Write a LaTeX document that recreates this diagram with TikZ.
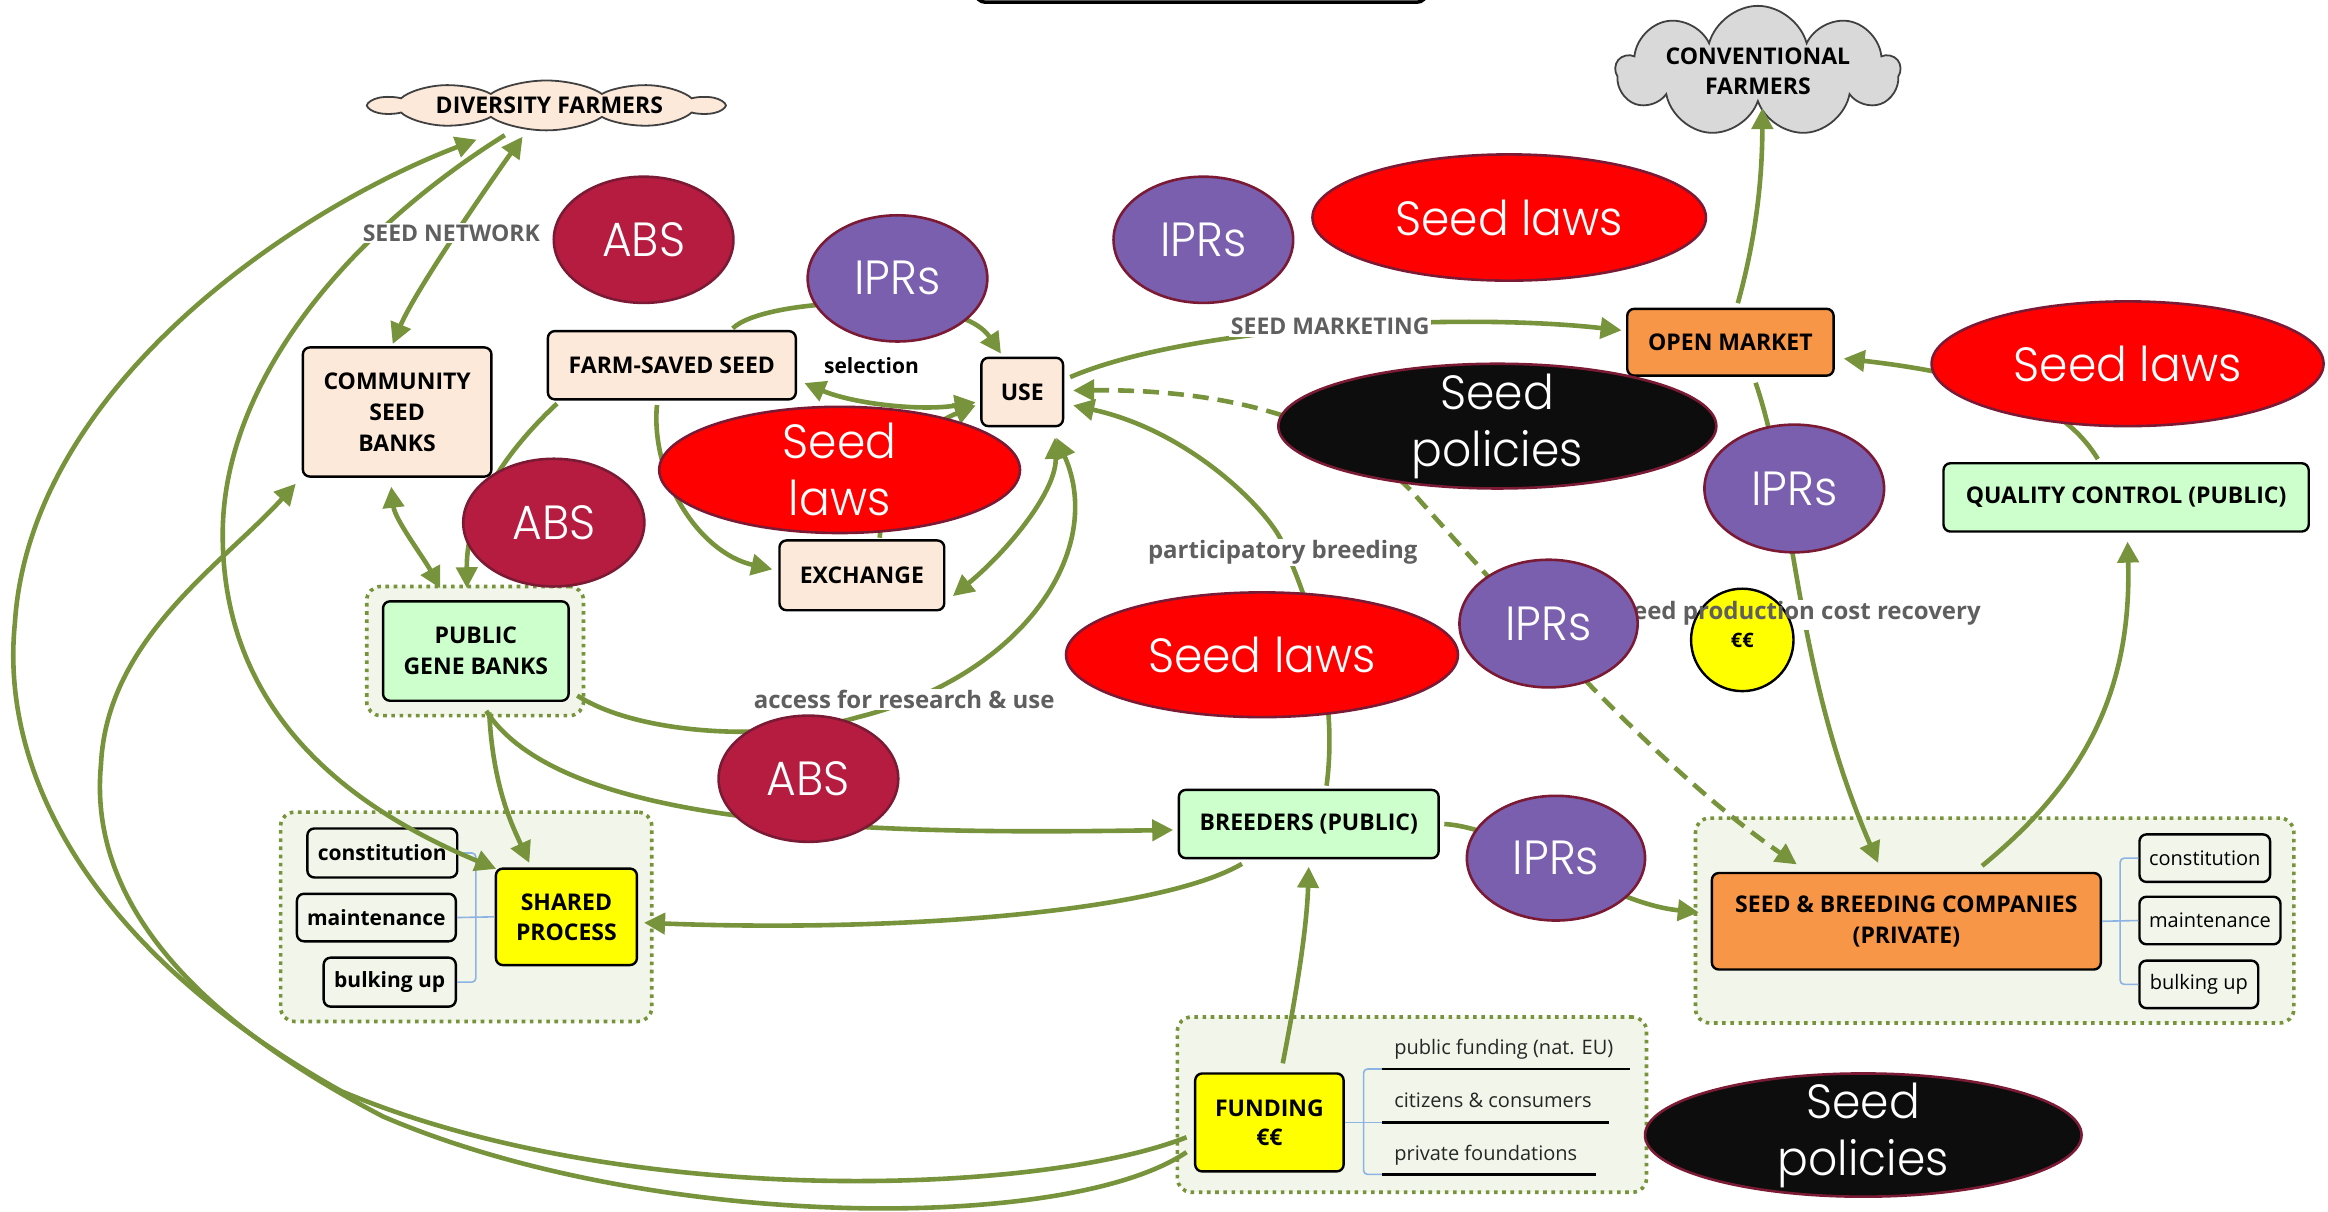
\documentclass[tikz,border=0pt]{standalone}
\usepackage{fontspec}
\setmainfont{Open Sans}
\newfontfamily\geo{Poppins Light}[FakeStretch=0.95]
\usetikzlibrary{shapes.geometric,shapes.symbols,arrows.meta,calc}
\definecolor{olv}{HTML}{77933C}
\definecolor{peach}{HTML}{FDE9D9}
\definecolor{lgreen}{HTML}{CCFFCC}
\definecolor{orng}{HTML}{F79646}
\definecolor{yel}{HTML}{FFFF00}
\definecolor{grpf}{HTML}{F2F5EA}
\definecolor{absc}{HTML}{B61C40}
\definecolor{iprc}{HTML}{7A5FAE}
\definecolor{lawc}{HTML}{FF0000}
\definecolor{polc}{HTML}{0D0D0D}
\definecolor{bord}{HTML}{7B1A35}
\definecolor{gtxt}{HTML}{5F5F5F}
\definecolor{brkc}{HTML}{8DB3E2}
\definecolor{cgray}{HTML}{D9D9D9}
\def\uu{1.4847pt}
\tikzset{
  sz/.style 2 args={minimum width=#1*\uu, minimum height=#2*\uu},
  bx/.style={draw=black, line width=2.4pt, rounded corners=7pt, inner sep=0pt, align=center, font=\bfseries\fontsize{23}{31}\selectfont},
  sbx/.style={draw=black, fill=grpf, line width=2.4pt, rounded corners=7pt, inner sep=0pt, font=\bfseries\fontsize{21}{24}\selectfont},
  sbxr/.style={sbx, font=\fontsize{20}{24}\selectfont},
  grp/.style={draw=olv, fill=grpf, line width=3.6pt, dash pattern=on 3.6pt off 4.6pt, rounded corners=14pt, inner sep=0pt},
  cld/.style={cloud, cloud ignores aspect, draw=black!75, line width=1.8pt, inner sep=0pt, align=center, font=\bfseries\fontsize{23}{30}\selectfont},
  blob/.style={ellipse, draw=bord, line width=2.6pt, text=white, inner sep=-25pt, align=center, font=\geo\fontsize{48}{57}\selectfont},
  absn/.style={blob, fill=absc},
  iprn/.style={blob, fill=iprc},
  lawn/.style={blob, fill=lawc},
  poln/.style={blob, fill=polc},
  conn/.style={draw=olv, line width=4.6pt},
  dsh/.style={conn, dash pattern=on 16pt off 9pt},
  lbl/.style={text=gtxt, fill=white, inner sep=1.5pt, font=\bfseries\fontsize{23}{26}\selectfont},
  lbls/.style={lbl, font=\bfseries\fontsize{24}{28}\selectfont},
  brk/.style={draw=brkc, line width=1.6pt, rounded corners=4pt},
  fl/.style={inner sep=0pt, text=black!85, font=\fontsize{20}{24}\selectfont},
  ul/.style={draw=black, line width=2.6pt},
}
\begin{document}
\begin{tikzpicture}[x=1.4847pt, y=-1.4847pt, >={Triangle[length=21pt,width=21pt]}]
\useasboundingbox (0,0) rectangle (1568,816);
% top bar (cut by the page edge)
\draw[line width=3.5pt, fill=white, rounded corners=10pt] (657,-40) rectangle (961,1.5);

% groups
\node[grp, sz={146}{87}] (gpgb) at (320,438.5) {};
\node[grp, sz={250}{141}] (gsp) at (314,617.5) {};
\node[grp, sz={403}{138}] (gsbc) at (1343.5,620) {};
\node[grp, sz={316}{118}] (gfund) at (951,744) {};

% clouds
\begin{scope}[shift={(368,71)}, yscale=0.42]
  \node[cld, fill=peach, sz={237}{80}, cloud puffs=10, cloud puff arc=120, transform shape] (df) at (0,0) {};
\end{scope}
\node[inner sep=0pt, font=\bfseries\fontsize{23}{30}\selectfont] (dft) at ($(df.center)+(2,0)$) {DIVERSITY FARMERS};
\node[cld, fill=cgray, sz={191}{80}, cloud puffs=9] (cf) at (1184,48) {CONVENTIONAL\\FARMERS};

% boxes
\node[bx, fill=peach, sz={127}{87}] (csb) at (267.5,277.5) {COMMUNITY\\SEED\\BANKS};
\node[bx, fill=peach, sz={167}{46}] (fss) at (452.5,246) {FARM-SAVED SEED};
\node[bx, fill=peach, sz={55}{46}] (use) at (688.5,264) {USE};
\node[bx, fill=peach, sz={111}{47}] (exch) at (580.5,387.5) {EXCHANGE};
\node[bx, fill=lgreen, sz={125}{67}] (pgb) at (320.5,438.5) {PUBLIC\\GENE BANKS};
\node[bx, fill=lgreen, sz={175}{46}] (br) at (881.5,555) {BREEDERS (PUBLIC)};
\node[bx, fill=orng, sz={139}{45}] (om) at (1165.5,230.5) {OPEN MARKET};
\node[bx, fill=lgreen, sz={246}{46}] (qc) at (1432,335) {QUALITY CONTROL (PUBLIC)};
\node[bx, fill=yel, sz={95}{65}, font=\bfseries\fontsize{23}{30}\selectfont] (sp) at (381.5,617.5) {SHARED\\PROCESS};
\node[bx, fill=orng, sz={262}{65}] (sbc) at (1284,620.5) {SEED \& BREEDING COMPANIES\\(PRIVATE)};
\node[bx, fill=yel, sz={100}{66}, font=\bfseries\fontsize{23}{29}\selectfont] (fund) at (855,756) {FUNDING\\€€};

% small boxes
\node[sbx, sz={101}{33}] (c1) at (257.5,574.5) {constitution};
\node[sbx, sz={107}{32}] (m1) at (253.5,618) {maintenance};
\node[sbx, sz={89}{33}] (b1) at (262.5,661.5) {bulking up};
\node[sbxr, sz={88}{32}] (c2) at (1485,578) {constitution};
\node[sbxr, sz={95}{32}] (m2) at (1488.5,620) {maintenance};
\node[sbxr, sz={80}{32}] (b2) at (1481,663) {bulking up};

% brackets
\draw[brk] (c1.east) -| ($(m1.east)!0.5!(sp.west)$) |- (b1.east);
\draw[brk] (m1.east) -- (sp.west);
\draw[brk] (c2.west) -| ($(sbc.east)!0.5!(m2.west)$) |- (b2.west);
\draw[brk] (sbc.east) -- (m2.west);

% funding list
\node[fl, anchor=base west] (fl1) at (939,710.5) {public funding (nat. EU)};
\node[fl, anchor=base west] (fl2) at (939,746) {citizens \& consumers};
\node[fl, anchor=base west] (fl3) at (939,781.5) {private foundations};
\coordinate (u1) at ($(fl1.base west)+(-8,9.5)$);
\coordinate (u2) at ($(fl2.base west)+(-8,10)$);
\coordinate (u3) at ($(fl3.base west)+(-8,9.5)$);
\draw[brk] (u1) -| ($(fund.east)!0.5!(u2)$) |- (u3);
\draw[brk] (fund.east) -- (u2);
\draw[ul] (u1) -- ++(167,0);
\draw[ul] (u2) -- ++(153,0);
\draw[ul] (u3) -- ++(144,0);

% connectors
\draw[conn,<->] ($(df.south)+(-16,4)$) .. controls (330,123) and (280,195) .. ($(csb.north)+(-3,-1.5)$);
\draw[conn,->] ($(df.south)+(-28,3)$) .. controls (230,160) and (150,260) .. (150,360) .. controls (150,490) and (250,550) .. ($(sp.north west)+(1,1)$);
\draw[conn,->] ($(fund.west)+(-5,10)$) .. controls (700,805) and (420,815) .. (230,735) .. controls (60,640) and (0,520) .. (10,420) .. controls (20,260) and (200,140) .. ($(df.south)+(-47,6)$);
\draw[conn,->] ($(fund.west)+(-5,20)$) .. controls (720,830) and (440,830) .. (258,752) .. controls (120,680) and (60,600) .. (68,515) .. controls (72,430) and (150,380) .. ($(csb.south west)+(-4,4)$);
\draw[conn,->] ($(fss.north)+(41,-1)$) .. controls (515,200) and (645,195) .. ($(use.north west)+(14,-2)$);
\draw[conn,<->] ($(fss.east)+(5,12)$) .. controls (575,272) and (620,277) .. ($(use.west)+(-3,7)$);
\draw[conn,->] ($(exch.north)+(12,-1)$) .. controls (596,320) and (612,292) .. ($(use.west)+(-3,9)$);
\draw[conn,->] ($(fss.south west)+(7,2)$) .. controls (345,300) and (314,340) .. ($(pgb.north)+(-6,-8)$);
\draw[conn,<->] ($(csb.south)+(-4,6)$) .. controls (266,350) and (285,375) .. ($(pgb.north)+(-24,-8)$);
\draw[conn,->] ($(fss.south)+(-10,3)$) .. controls (438,320) and (470,372) .. ($(exch.west)+(-4,-4)$);
\draw[conn,<->] ($(exch.east)+(5,14)$) .. controls (680,370) and (712,330) .. ($(use.south)+(22,7)$);
\draw[conn,->] ($(pgb.east)+(5,30)$) .. controls (430,495) and (520,500) .. (578,483) .. controls (690,455) and (745,370) .. ($(use.south)+(23,7)$);
\draw[conn,->] ($(pgb.south)+(7,6)$) .. controls (380,560) and (600,562) .. ($(br.west)+(-3,4)$);
\draw[conn,->] ($(pgb.south)+(9,7)$) .. controls (332,530) and (345,556) .. ($(sp.north)+(-25,-3)$);
\draw[conn,->] ($(br.south)+(-45,3)$) .. controls (780,615) and (600,628) .. ($(sp.east)+(4,4)$);
\draw[conn,->] ($(fund.north)+(9,-6)$) .. controls (871,680) and (880,630) .. ($(br.south)+(0,5)$);
\draw[conn,->] ($(br.east)+(3,0)$) .. controls (1020,558) and (1080,608) .. ($(sbc.west)+(-8,-6)$);
\draw[conn,->] ($(use.east)+(4,-10)$) .. controls (800,220) and (980,210) .. ($(om.west)+(-3,-8)$);
\draw[conn,->] ($(br.north)+(12,-2)$) .. controls (900,480) and (890,420) .. (862,362) .. controls (850,340) and (800,290) .. ($(use.east)+(6,9)$);
\draw[dsh,<->] ($(use.east)+(6,-1)$) .. controls (820,262) and (900,280) .. (950,330) .. controls (1030,420) and (1120,520) .. ($(sbc.north west)+(58,-5)$);
\draw[conn,->] ($(om.north)+(5,-3)$) .. controls (1180,170) and (1187,130) .. ($(cf.south)+(3,3)$);
\draw[conn,->] ($(qc.north)+(-19,-2)$) .. controls (1395,280) and (1360,255) .. ($(om.east)+(6,11)$);
\draw[conn,->] ($(om.south)+(17,4)$) .. controls (1210,340) and (1208,450) .. ($(sbc.north)+(-19,-6)$);
\draw[conn,->] ($(sbc.north)+(51,-4)$) .. controls (1400,530) and (1436,470) .. ($(qc.south)+(1,6)$);
\fill[white] (1204,404) rectangle (1226,424);

% labels on connectors
\node[lbl] (lsn) at (304,157) {SEED NETWORK};
\node[lbl] (lsm) at (896,220) {SEED MARKETING};
\node[lbls] (lpb) at (864,372) {participatory breeding};
\node[lbls] (lar) at (609,471) {access for research \& use};
\node[text=black, inner sep=1pt, font=\bfseries\fontsize{21}{24}\selectfont] (lsel) at (587,246) {selection};

% policy ellipses
\node[absn, sz={121}{85}] (abs1) at (433.5,161.5) {ABS};
\node[iprn, sz={121}{85}] (ipr1) at (604.5,187.5) {IPRs};
\node[iprn, sz={121}{85}] (ipr2) at (810.5,161.5) {IPRs};
\node[lawn, sz={265}{85}] (law1) at (1016.5,146.5) {Seed laws};
\node[lawn, sz={264}{84}] (law2) at (1433,245) {Seed laws};
\node[poln, sz={295}{84}] (pol1) at (1008.5,287) {Seed\\policies};
\node[iprn, sz={121}{86}] (ipr3) at (1208.5,329) {IPRs};
\node[lawn, sz={243}{85}] (law3) at (565.5,316.5) {Seed\\laws};
\node[absn, sz={122}{86}] (abs2) at (373,352) {ABS};
\node[lawn, sz={264}{84}] (law4) at (850,441) {Seed laws};
\node[absn, sz={121}{85}] (abs3) at (544.5,524.5) {ABS};
\node[iprn, sz={120}{84}] (ipr5) at (1048,578) {IPRs};
\node[poln, sz={294}{83}] (pol2) at (1255,764.5) {Seed\\policies};
\node[circle, draw=black, fill=yel, line width=2.4pt, inner sep=0pt, sz={69}{69}, font=\bfseries\fontsize{20}{24}\selectfont] (eur) at (1173.5,431) {€€};
\node[lbls, fill=none] (lsp) at (1213,413) {seed production cost recovery};
\node[iprn, sz={120}{86}] (ipr4) at (1043,420) {IPRs};
\end{tikzpicture}
\end{document}
